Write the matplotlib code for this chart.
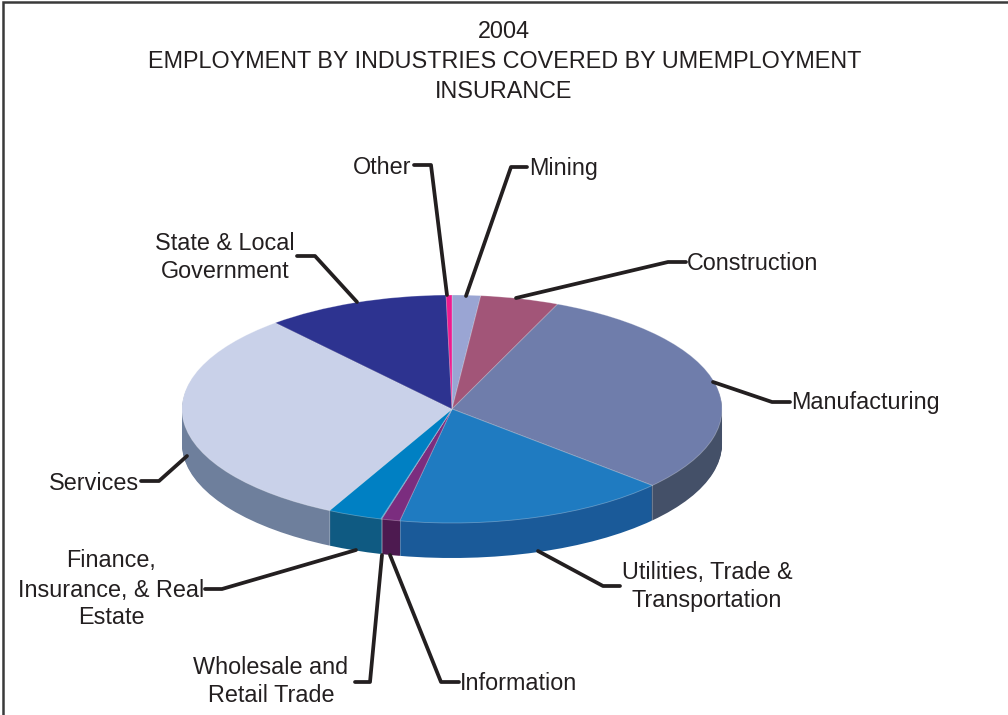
#!/usr/bin/env python3
# -*- coding: utf-8 -*-

import numpy as np
import matplotlib
matplotlib.use("Agg")
import matplotlib.pyplot as plt

plt.rcParams['font.family'] = ['Liberation Sans', 'DejaVu Sans']

# clockwise from 12 o'clock (percent)
categories = ["Mining", "Construction", "Manufacturing", "Utilities, Trade & Transportation",
              "Information", "Wholesale and Retail Trade", "Finance, Insurance, & Real Estate",
              "Services", "State & Local Government", "Other"]
values = [1.7, 4.7, 30.3, 16.4, 1.1, 0.05, 3.25, 31.15, 11.0, 0.35]
top_colors = ["#9aa5d3", "#a25578", "#6f7dab", "#1f7bc1", "#7b2d7f",
              "#0080c3", "#0080c3", "#c9d1e9", "#2d3390", "#ec1c8e"]
side_colors = ["#6a7395", "#713b54", "#445068", "#1a5a99", "#4d1a50",
               "#0f5a82", "#0f5a82", "#6e7f9c", "#1f2464", "#a01361"]

W, H = 1008, 715
CX, CY, RX, RY = 452, 409, 270, 114
DEPTH = 35

fig = plt.figure(figsize=(W / 100, H / 100), dpi=100)

# pie axes: unit circle squashed into an ellipse by the axis limits
ax = fig.add_axes([0, 0, 1, 1])
for d in range(DEPTH, 0, -1):
    ax.pie(values, colors=side_colors, startangle=90, counterclock=False,
           center=(0, -d / RY), radius=1, normalize=True)
ax.pie(values, colors=top_colors, startangle=90, counterclock=False,
       radius=1, normalize=True,
       wedgeprops=dict(edgecolor=(1, 1, 1, 0.3), linewidth=0.6))

# seams on the visible side wall
angles = 90 - np.cumsum(values) * 3.6
for a in angles:
    x, y = np.cos(np.radians(a)), np.sin(np.radians(a))
    if y < 0:
        ax.plot([x, x], [y, y - DEPTH / RY], color=(1, 1, 1, 0.25), lw=0.7)

ax.set_aspect('auto')
ax.set_xlim(-CX / RX, (W - CX) / RX)
ax.set_ylim((CY - H) / RY, CY / RY)
ax.axis('off')

# overlay in picture pixels for frame, leaders and text
ov = fig.add_axes([0, 0, 1, 1])
ov.set_xlim(0, W)
ov.set_ylim(H, 0)
ov.axis('off')
ov.patch.set_alpha(0)

INK = "#231f20"
ov.plot([3, 3, W], [H, 1.5, 1.5], color="#3a3a3a", lw=1.8, solid_joinstyle='miter')

leaders = [
    [(414, 165), (431, 165), (447, 295)],
    [(527, 167), (511, 167), (466, 296)],
    [(686, 262), (668, 262), (516, 298)],
    [(790, 402), (772, 402), (713, 382)],
    [(620, 586), (603, 586), (538, 551)],
    [(459, 682), (441, 682), (390, 555)],
    [(355, 682), (370, 682), (382, 555)],
    [(205, 589), (222, 589), (356, 550)],
    [(141, 481), (159, 481), (187, 456)],
    [(297, 256), (315, 256), (357, 302)],
]
for pts in leaders:
    xs, ys = zip(*pts)
    ov.plot(xs, ys, color=INK, lw=2.7, solid_capstyle='round', solid_joinstyle='round')

texts = [
    (504, 31.5, "2004"),
    (505, 61, "EMPLOYMENT BY INDUSTRIES COVERED BY UMEMPLOYMENT"),
    (504, 91, "INSURANCE"),
    (382, 167, "Other"),
    (564, 168, "Mining"),
    (753, 263, "Construction"),
    (865, 403, "Manufacturing"),
    (707, 573, "Utilities, Trade &"),
    (707, 601, "Transportation"),
    (519, 683, "Information"),
    (271, 668, "Wholesale and"),
    (271, 696, "Retail Trade"),
    (111, 561, "Finance,"),
    (111, 590, "Insurance, & Real"),
    (111, 618, "Estate"),
    (94, 483, "Services"),
    (225, 244, "State & Local"),
    (225, 272, "Government"),
]
for x, y, s in texts:
    ov.text(x, y, s, ha='center', va='center', fontsize=16.85, color=INK)

plt.savefig("out.png", dpi=100)
plt.close()
